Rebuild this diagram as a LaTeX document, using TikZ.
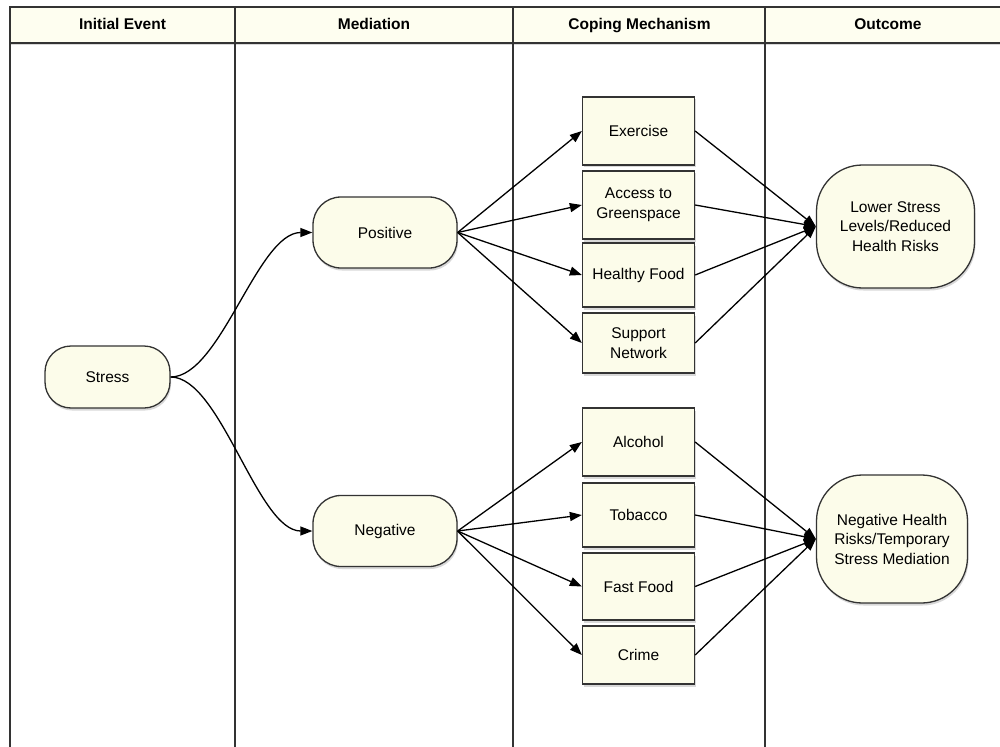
\documentclass[tikz,border=0pt]{standalone}
\usepackage{fontspec}
\setmainfont{Liberation Sans}
\usetikzlibrary{arrows.meta,shadows}
\definecolor{hdrfill}{RGB}{254,254,240}
\definecolor{nodefill}{RGB}{252,252,234}
\definecolor{edgecol}{RGB}{51,51,51}
\begin{document}
\begin{tikzpicture}[x=1pt,y=-1pt,
  nbase/.style={draw=edgecol, line width=1.3pt, fill=nodefill, align=center, inner sep=0pt,
    font=\fontsize{15.5}{19.5}\selectfont,
    drop shadow={shadow xshift=1pt, shadow yshift=-2.5pt, opacity=0.3}},
  pill/.style={nbase, rounded corners=28pt, minimum width=144pt, minimum height=71pt},
  cbox/.style={nbase, minimum width=112pt},
  outc/.style={nbase, rounded corners=46pt},
  hdr/.style={inner sep=0pt, anchor=base, font=\bfseries\fontsize{15.5}{19}\selectfont},
  conn/.style={line width=1.3pt, -{Triangle[length=12pt,width=9pt]}},
  lane/.style={draw=edgecol, line width=1.4pt}]
\useasboundingbox (0,0) rectangle (1000,746);
\fill[white] (0,0) rectangle (1000,746);
% header
\path[lane, fill=hdrfill, drop shadow={shadow xshift=0pt, shadow yshift=-2pt, opacity=0.3}] (10,7) rectangle (1010,43);
\foreach \x in {10,235,513,765} {\draw[lane] (\x,7) -- (\x,750);}
\node[hdr] (h1) at (122.5,30) {Initial Event};
\node[hdr] (h2) at (374,30) {Mediation};
\node[hdr] (h3) at (639.5,30) {Coping Mechanism};
\node[hdr] (h4) at (888,30) {Outcome};
% nodes
\node[pill, minimum width=125pt, minimum height=62pt, rounded corners=26pt] (stress) at (107.5,377) {Stress};
\node[pill] (pos) at (385,232.5) {Positive};
\node[pill] (neg) at (385,531) {Negative};
\node[cbox, minimum height=68pt] (ex) at (638.5,131) {Exercise};
\node[cbox, minimum height=68pt] (gs) at (638.5,205) {Access to\\Greenspace};
\node[cbox, minimum height=64pt] (hf) at (638.5,275) {Healthy Food};
\node[cbox, minimum height=60pt] (sn) at (638.5,343) {Support\\Network};
\node[cbox, minimum height=68pt] (al) at (638.5,442) {Alcohol};
\node[cbox, minimum height=64pt] (tb) at (638.5,515) {Tobacco};
\node[cbox, minimum height=67pt] (ff) at (638.5,586.5) {Fast Food};
\node[cbox, minimum height=58pt] (cr) at (638.5,655) {Crime};
\node[outc, minimum width=158pt, minimum height=123pt] (low) at (895.5,226.5) {Lower Stress\\Levels/Reduced\\Health Risks};
\node[outc, minimum width=151pt, minimum height=128pt] (nh) at (892,539) {Negative Health\\Risks/Temporary\\Stress Mediation};
% connectors
\draw[conn] (stress.east) .. controls +(50,0) and +(-55,0) .. (pos.west);
\draw[conn] (stress.east) .. controls +(50,0) and +(-55,0) .. (neg.west);
\foreach \t in {ex,gs,hf,sn} {\draw[conn] (pos.east) -- (\t.west);}
\foreach \t in {al,tb,ff,cr} {\draw[conn] (neg.east) -- (\t.west);}
\foreach \s in {ex,gs,hf,sn} {\draw[conn] (\s.east) -- (low.west);}
\foreach \s in {al,tb,ff,cr} {\draw[conn] (\s.east) -- (nh.west);}
\end{tikzpicture}
\end{document}
